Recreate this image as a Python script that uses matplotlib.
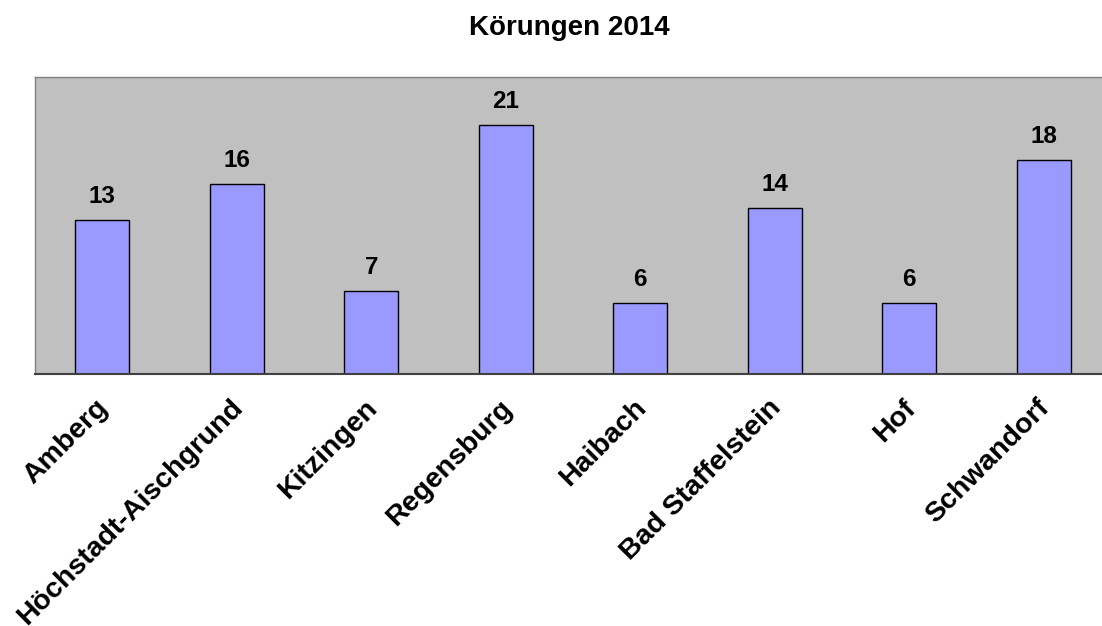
import matplotlib.pyplot as plt
from matplotlib.transforms import ScaledTranslation

orte = ['Amberg', 'Höchstadt-Aischgrund', 'Kitzingen', 'Regensburg',
        'Haibach', 'Bad Staffelstein', 'Hof', 'Schwandorf']
koerungen = [13, 16, 7, 21, 6, 14, 6, 18]

plt.rcParams['font.family'] = ['Liberation Sans', 'DejaVu Sans']
plt.rcParams['font.weight'] = 'bold'

W, H = 1102, 626
fig = plt.figure(figsize=(W / 100, H / 100), dpi=100)
# plot area runs past the right edge of the image, as in the original
ax = fig.add_axes([35 / W, 1 - 374 / H, (1111 - 35) / W, (374 - 77) / H])
ax.set_facecolor('#c0c0c0')

x = range(len(orte))
bars = ax.bar(x, koerungen, width=0.4, color='#9999ff', edgecolor='black', linewidth=1)
for b, v in zip(bars, koerungen):
    ax.annotate(str(v), (b.get_x() + b.get_width() / 2, v), xytext=(0, 12),
                textcoords='offset points', ha='center', va='baseline',
                fontsize=17.5, fontweight='bold')

ax.set_xlim(-0.5, len(orte) - 0.5)
ax.set_ylim(0, 25)
ax.set_yticks([])
ax.set_xticks(list(x))
ax.set_xticklabels(orte, rotation=45, ha='right', va='top', rotation_mode='anchor',
                   fontsize=20.5, fontweight='bold')
ax.tick_params(axis='x', length=0, pad=15)
shift = ScaledTranslation(-7 / 100, 0, fig.dpi_scale_trans)
for lbl in ax.get_xticklabels():
    lbl.set_transform(lbl.get_transform() + shift)

for s in ['left', 'top', 'right']:
    ax.spines[s].set_color('#808080')
    ax.spines[s].set_linewidth(1)
ax.spines['bottom'].set_color('#404040')
ax.spines['bottom'].set_linewidth(1.5)

fig.text(569 / W, 1 - 28 / H, 'Körungen 2014', ha='center', va='center',
         fontsize=20, fontweight='bold')

fig.savefig('out.png', dpi=100)
